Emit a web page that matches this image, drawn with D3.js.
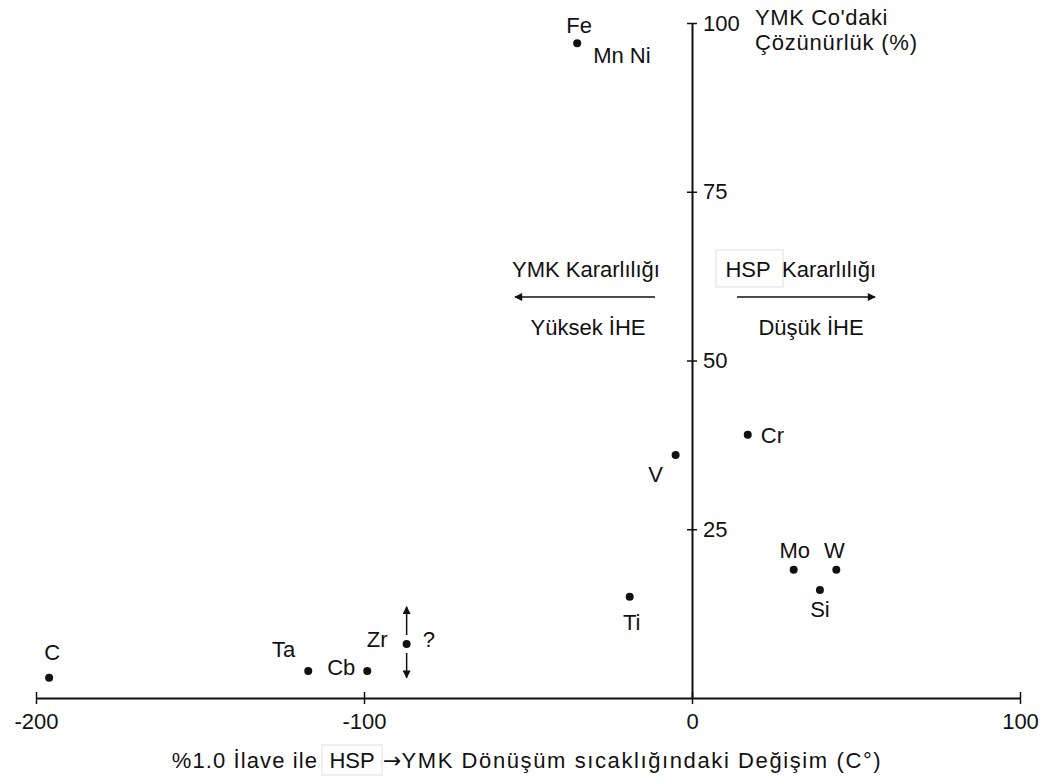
<!DOCTYPE html>
<html>
<head>
<meta charset="utf-8">
<script src="https://cdn.jsdelivr.net/npm/d3@7"></script>
<style>
  body { margin: 0; background: #fff; }
  text { font-family: "Liberation Sans", Arial, sans-serif; fill: #111; }
</style>
</head>
<body>
<div id="chart"></div>
<script>
// elements added at 1.0 %
const elements   = ["C", "Ta", "Cb", "Zr", "Ti", "V", "Fe", "Cr", "Mo", "Si", "W"];
// change in HSP -> YMK transformation temperature (C°)
const tempChange = [-196, -117, -99, -87, -19, -5, -35, 17, 31, 39, 44];
// solubility in YMK Co (%)
const solubility = [3, 4, 4, 8, 15, 36, 97, 39, 19, 16, 19];
// Zr solubility is uncertain: range shown with arrows
const zrRange = [3, 13.5];

const xTicks = [-200, -100, 0, 100];
const yTicks = [25, 50, 75, 100];

const width = 1053;
const height = 784;
const fontSize = 22;

// label placement next to each dot
const labelPos = {
  C:  { dx: 3,   dy: -18, anchor: "middle" },
  Ta: { dx: -13, dy: -14, anchor: "end" },
  Cb: { dx: -12, dy: 4,   anchor: "end" },
  Zr: { dx: -19, dy: 3,   anchor: "end" },
  Ti: { dx: 2,   dy: 33,  anchor: "middle" },
  V:  { dx: -20, dy: 27,  anchor: "middle" },
  Fe: { dx: 2,   dy: -10, anchor: "middle" },
  Cr: { dx: 13,  dy: 8,   anchor: "start" },
  Mo: { dx: 1,   dy: -12, anchor: "middle" },
  Si: { dx: 0,   dy: 27,  anchor: "middle" },
  W:  { dx: -2,  dy: -12, anchor: "middle" }
};

const x = d3.scaleLinear().domain([-200, 100]).range([36, 1020]);
const y = d3.scaleLinear().domain([0, 100]).range([698, 23]);

const svg = d3.select('#chart')
  .append('svg')
  .attr('width', width)
  .attr('height', height)
  .style('font-size', fontSize + 'px');

svg.append('rect').attr('width', width).attr('height', height).attr('fill', '#fff');

svg.append('defs').append('marker')
  .attr('id', 'head')
  .attr('viewBox', '0 0 10 10')
  .attr('refX', 9)
  .attr('refY', 5)
  .attr('markerWidth', 10)
  .attr('markerHeight', 8)
  .attr('markerUnits', 'userSpaceOnUse')
  .attr('orient', 'auto')
  .append('path')
  .attr('d', 'M0,0 L10,5 L0,10 Z')
  .attr('fill', '#111');

// x axis (plain hyphen for negatives, as in the original)
const xAxis = svg.append('g')
  .attr('transform', `translate(0, ${y(0)})`)
  .call(d3.axisBottom(x).tickValues(xTicks).tickFormat(d => String(d))
    .tickSize(6).tickSizeOuter(0).tickPadding(9));

xAxis.selectAll('.tick line').attr('y1', -6).attr('y2', 6);

// y axis
const x0 = x(0);
const yAxis = svg.append('g')
  .attr('transform', `translate(${x0}, 0)`)
  .call(d3.axisRight(y).tickValues(yTicks).tickSize(5).tickSizeOuter(0).tickPadding(6));

yAxis.selectAll('.tick line').attr('x1', -5).attr('x2', 5);

[xAxis, yAxis].forEach(g => {
  g.select('.domain').attr('stroke', '#111').attr('stroke-width', 2);
  g.selectAll('.tick line').attr('stroke', '#111').attr('stroke-width', 1.5);
  g.selectAll('.tick text')
    .attr('font-size', fontSize)
    .attr('font-family', '"Liberation Sans", Arial, sans-serif')
    .attr('fill', '#111');
});

// y axis title
svg.append('text')
  .attr('x', x0 + 63)
  .attr('y', 25)
  .attr('letter-spacing', 0.6)
  .text("YMK Co'daki");
svg.append('text')
  .attr('x', x0 + 63)
  .attr('y', 50)
  .attr('letter-spacing', 0.8)
  .text('Çözünürlük (%)');

// points
const points = elements.map((el, i) => ({ el, t: tempChange[i], s: solubility[i] }));

svg.append('g')
  .selectAll('circle')
  .data(points)
  .join('circle')
  .attr('cx', d => x(d.t))
  .attr('cy', d => y(d.s))
  .attr('r', 4)
  .attr('fill', '#111');

svg.append('g')
  .selectAll('text')
  .data(points)
  .join('text')
  .attr('x', d => x(d.t) + labelPos[d.el].dx)
  .attr('y', d => y(d.s) + labelPos[d.el].dy)
  .attr('text-anchor', d => labelPos[d.el].anchor)
  .text(d => d.el);

// extra labels
const fe = points.find(d => d.el === 'Fe');
svg.append('text')
  .attr('x', x(fe.t) + 16)
  .attr('y', y(fe.s) + 20)
  .text('Mn Ni');

const zr = points.find(d => d.el === 'Zr');
svg.append('text')
  .attr('x', x(zr.t) + 16)
  .attr('y', y(zr.s) + 3)
  .text('?');

// Zr range arrows
svg.append('line')
  .attr('x1', x(zr.t)).attr('x2', x(zr.t))
  .attr('y1', y(zr.s) - 9).attr('y2', y(zrRange[1]))
  .attr('stroke', '#111').attr('stroke-width', 1.5)
  .attr('marker-end', 'url(#head)');
svg.append('line')
  .attr('x1', x(zr.t)).attr('x2', x(zr.t))
  .attr('y1', y(zr.s) + 9).attr('y2', y(zrRange[0]))
  .attr('stroke', '#111').attr('stroke-width', 1.5)
  .attr('marker-end', 'url(#head)');

// stability annotations
const ay = 297;
svg.append('line')
  .attr('x1', x0 - 37).attr('x2', x0 - 177)
  .attr('y1', ay).attr('y2', ay)
  .attr('stroke', '#111').attr('stroke-width', 1.5)
  .attr('marker-end', 'url(#head)');
svg.append('line')
  .attr('x1', x0 + 45).attr('x2', x0 + 183)
  .attr('y1', ay).attr('y2', ay)
  .attr('stroke', '#111').attr('stroke-width', 1.5)
  .attr('marker-end', 'url(#head)');

svg.append('text')
  .attr('x', x0 - 106).attr('y', 277)
  .attr('text-anchor', 'middle')
  .text('YMK Kararlılığı');
svg.append('text')
  .attr('x', x0 - 104).attr('y', 335)
  .attr('text-anchor', 'middle')
  .text('Yüksek İHE');

svg.append('rect')
  .attr('x', x0 + 24).attr('y', 250)
  .attr('width', 67).attr('height', 37)
  .attr('fill', 'none').attr('stroke', '#ddd');
svg.append('text')
  .attr('x', x0 + 56).attr('y', 277)
  .attr('text-anchor', 'middle')
  .text('HSP');
svg.append('text')
  .attr('x', x0 + 90).attr('y', 277)
  .text('Kararlılığı');
svg.append('text')
  .attr('x', x0 + 119).attr('y', 335)
  .attr('text-anchor', 'middle')
  .text('Düşük İHE');

// x axis title
svg.append('text')
  .attr('x', 318).attr('y', 768)
  .attr('text-anchor', 'end')
  .attr('letter-spacing', 1.1)
  .text('%1.0 İlave ile');
svg.append('rect')
  .attr('x', 322).attr('y', 745)
  .attr('width', 60).attr('height', 30)
  .attr('fill', 'none').attr('stroke', '#ddd');
svg.append('text')
  .attr('x', 352).attr('y', 768)
  .attr('text-anchor', 'middle')
  .text('HSP');

const tail = svg.append('text')
  .attr('x', 383).attr('y', 768)
  .attr('letter-spacing', 1.6);
tail.append('tspan')
  .attr('font-family', '"DejaVu Sans", sans-serif')
  .attr('letter-spacing', 0)
  .text('→');
tail.append('tspan')
  .text('YMK Dönüşüm sıcaklığındaki Değişim (C°)');
</script>
</body>
</html>
